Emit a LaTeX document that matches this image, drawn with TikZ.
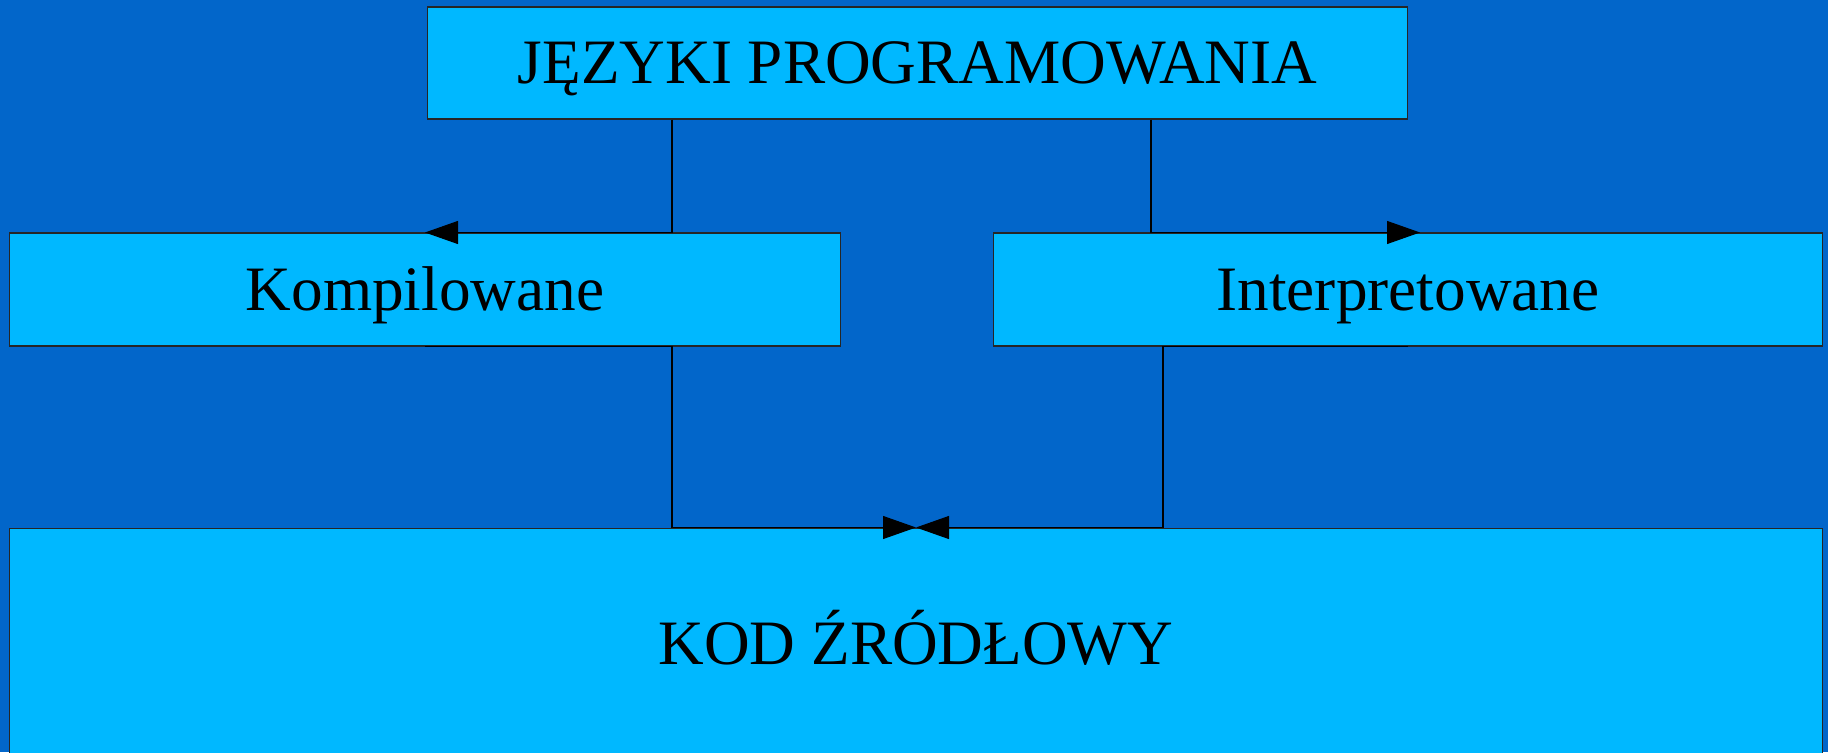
\documentclass[tikz,border=0pt]{standalone}
\usepackage{fontspec}
\setmainfont{Liberation Serif}
\usetikzlibrary{arrows.meta}
\definecolor{tlo}{RGB}{2,102,202}
\definecolor{pole}{RGB}{0,184,255}

\begin{document}
\begin{tikzpicture}[x=0.02cm,y=-0.02cm,every node/.style={font=\fontsize{36}{40}\selectfont}]
  \tikzset{
    blok/.style={rectangle,draw=black!85,fill=pole,line width=0.6pt,inner sep=0pt,text height=23.8pt,text depth=0pt},
    lacz/.style={draw=black,line width=0.6pt,-{Triangle[length=0.66cm,width=0.46cm]}}
  }
  \useasboundingbox[fill=tlo] (0,0) rectangle (1828,752);
  \clip (0,0) rectangle (1828,752);
  \node[blok,minimum width=19.62cm,minimum height=2.24cm] (lang) at (917.5,63) {JĘZYKI PROGRAMOWANIA};
  \node[blok,minimum width=16.64cm,minimum height=2.26cm] (comp) at (425,289.5) {Kompilowane};
  \node[blok,minimum width=16.6cm,minimum height=2.26cm] (interp) at (1408,289.5) {Interpretowane};
  \node[blok,minimum width=36.28cm,minimum height=4.62cm] (src) at (916,643.5) {KOD ŹRÓDŁOWY};
  \coordinate (kl) at (672,0);
  \coordinate (kp) at (1151,0);
  \coordinate (kd) at (1163,0);
  \draw[lacz] (lang.south -| kl) |- (comp.north);
  \draw[lacz] (lang.south -| kp) |- ([xshift=0.24cm]interp.north);
  \draw[lacz] (comp.south) -| (src.north -| kl) -- (src.north);
  \draw[lacz] (interp.south) -| (src.north -| kd) -- (src.north);
\end{tikzpicture}
\end{document}
